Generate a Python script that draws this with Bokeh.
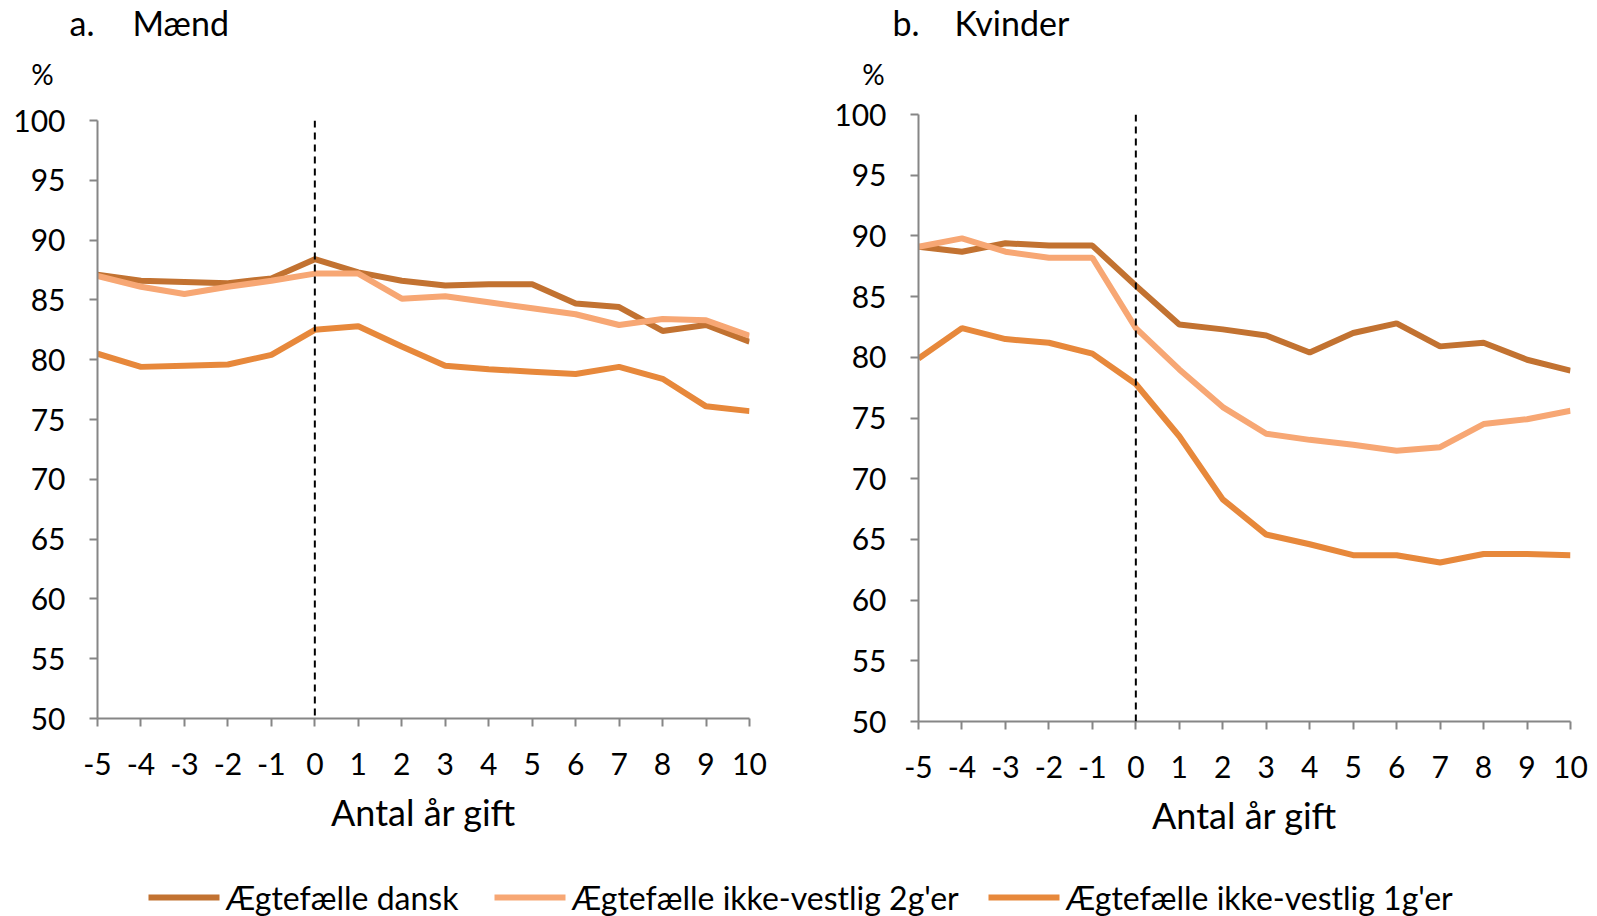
from bokeh.plotting import figure
from bokeh.models import Range1d, Span, FixedTicker, ColumnDataSource
from bokeh.layouts import column, row
from bokeh.core.properties import value
from bokeh.embed import file_html
from bokeh.resources import INLINE

# ---------------- data ----------------
years = [-5, -4, -3, -2, -1, 0, 1, 2, 3, 4, 5, 6, 7, 8, 9, 10]
x_labels = ["-5", "-4", "-3", "-2", "-1", "0", "1", "2", "3", "4", "5", "6", "7", "8", "9", "10"]
y_ticks = [50, 55, 60, 65, 70, 75, 80, 85, 90, 95, 100]

panel_letters = ["a.", "b."]
panel_titles = ["Mænd", "Kvinder"]
unit_label = "%"
x_axis_label = "Antal år gift"

series_names = ["Ægtefælle dansk", "Ægtefælle ikke-vestlig 2g'er", "Ægtefælle ikke-vestlig 1g'er"]
series_colors = ["#C27231", "#F7A774", "#E7883B"]

maend_dansk = [87.1, 86.6, 86.5, 86.4, 86.8, 88.4, 87.3, 86.6, 86.2, 86.3, 86.3, 84.7, 84.4, 82.4, 82.9, 81.5]
maend_2g = [87.0, 86.1, 85.5, 86.1, 86.6, 87.2, 87.2, 85.1, 85.3, 84.8, 84.3, 83.8, 82.9, 83.4, 83.3, 82.0]
maend_1g = [80.5, 79.4, 79.5, 79.6, 80.4, 82.5, 82.8, 81.1, 79.5, 79.2, 79.0, 78.8, 79.4, 78.4, 76.1, 75.7]

kvinder_dansk = [89.1, 88.7, 89.4, 89.2, 89.2, 85.9, 82.7, 82.3, 81.8, 80.4, 82.0, 82.8, 80.9, 81.2, 79.8, 78.9]
kvinder_2g = [89.1, 89.8, 88.7, 88.2, 88.2, 82.4, 79.0, 75.9, 73.7, 73.2, 72.8, 72.3, 72.6, 74.5, 74.9, 75.6]
kvinder_1g = [79.9, 82.4, 81.5, 81.2, 80.3, 77.8, 73.5, 68.3, 65.4, 64.6, 63.7, 63.7, 63.1, 63.8, 63.8, 63.7]

FONT = "Lato"
AXIS_GRAY = "#868686"
TOTAL_W = 1589


def blank_fig(w, h):
    f = figure(width=w, height=h, output_backend="svg", toolbar_location=None,
               x_range=Range1d(0, w), y_range=Range1d(0, h), min_border=0)
    f.axis.visible = False
    f.xgrid.visible = False
    f.ygrid.visible = False
    f.outline_line_color = None
    return f


def make_panel(s1, s2, s3, width, height, bl, br, bt, bb):
    p = figure(width=width, height=height, output_backend="svg", toolbar_location=None,
               x_range=Range1d(-5, 10), y_range=Range1d(50, 100),
               min_border_left=bl, min_border_right=br, min_border_top=bt, min_border_bottom=bb)
    p.outline_line_color = None
    p.xgrid.visible = False
    p.ygrid.visible = False

    for ax in (p.xaxis[0], p.yaxis[0]):
        ax.axis_line_color = AXIS_GRAY
        ax.axis_line_width = 2
        ax.major_tick_line_color = AXIS_GRAY
        ax.major_tick_line_width = 2
        ax.major_tick_in = 0
        ax.major_tick_out = 8
        ax.minor_tick_line_color = None
        ax.major_label_text_font = FONT
        ax.major_label_text_font_size = "30px"
        ax.major_label_text_color = "#000000"

    p.xaxis.ticker = FixedTicker(ticks=years)
    p.xaxis.major_label_overrides = {y: l for y, l in zip(years, x_labels)}
    p.xaxis.major_label_standoff = 26
    p.xaxis.axis_label = x_axis_label
    p.xaxis.axis_label_text_font = FONT
    p.xaxis.axis_label_text_font_size = "36px"
    p.xaxis.axis_label_text_font_style = "normal"
    p.xaxis.axis_label_text_color = "#000000"
    p.xaxis.axis_label_standoff = 12

    p.yaxis.ticker = FixedTicker(ticks=y_ticks)
    p.yaxis.major_label_standoff = 24

    p.add_layout(Span(location=0, dimension="height", line_color="black",
                      line_width=2, line_dash="7 5"))

    for vals, col in zip((s1, s2, s3), series_colors):
        p.line(years, vals, line_color=col, line_width=6)
    return p


# ---------------- header (panel titles and unit) ----------------
HEAD_H = 94
head = blank_fig(TOTAL_W, HEAD_H)
head_src = ColumnDataSource(dict(
    x=[69, 132, 892, 954], y=[72, 72, 72, 72],
    t=[panel_letters[0], panel_titles[0], panel_letters[1], panel_titles[1]]))
head.text(x="x", y="y", text="t", source=head_src, text_font=value(FONT),
          text_font_size="34px", text_baseline="middle", text_align="left", text_color="black")
unit_src = ColumnDataSource(dict(x=[42, 873], y=[21, 21], t=[unit_label, unit_label]))
head.text(x="x", y="y", text="t", source=unit_src, text_font=value(FONT),
          text_font_size="28px", text_baseline="middle", text_align="center", text_color="black")

# ---------------- panels ----------------
PH = 746
p1 = make_panel(maend_dansk, maend_2g, maend_1g, 813, PH, 97, 64, 26, PH - 26 - 598)
p2 = make_panel(kvinder_dansk, kvinder_2g, kvinder_1g, 776, PH, 105, 19, 20, PH - 20 - 607)

# ---------------- legend ----------------
LH = 76
leg = blank_fig(TOTAL_W, LH)
leg_x0 = [148, 494, 988]
leg_src = ColumnDataSource(dict(
    x0=leg_x0, x1=[x + 71 for x in leg_x0], y=[19, 19, 19],
    tx=[x + 77 for x in leg_x0], name=series_names, color=series_colors))
leg.segment(x0="x0", y0="y", x1="x1", y1="y", line_color="color", line_width=6, source=leg_src)
leg.text(x="tx", y="y", text="name", text_font=value(FONT), text_font_size="32px",
         text_baseline="middle", text_align="left", text_color="black", source=leg_src)

layout = column(head, row(column(p1), column(p2)), leg)

open("out.html", "w").write(file_html(layout, INLINE))
